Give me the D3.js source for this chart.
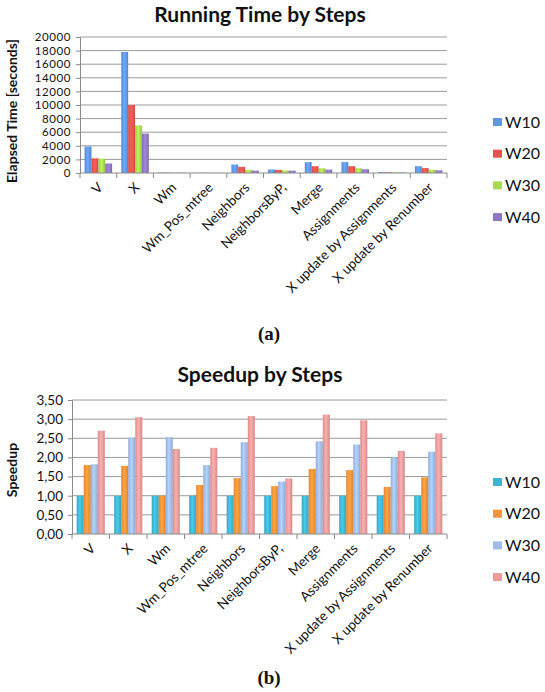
<!DOCTYPE html>
<html>
<head>
<meta charset="utf-8">
<style>
  body { margin: 0; background: #fff; }
  svg text { fill: #111; }
</style>
</head>
<body>
<div id="chart"></div>
<script src="https://d3js.org/d3.v7.min.js"></script>
<script>
// categories shared by both charts
var steps = ["V", "X", "Wm", "Wm_Pos_mtree", "Neighbors", "NeighborsByP,", "Merge",
             "Assignments", "X update by Assignments", "X update by Renumber"];
var workers = ["W10", "W20", "W30", "W40"];

// (a) elapsed time in seconds
var timeW10 = [3900, 17800, 60, 30, 1250, 520, 1600, 1600, 150, 1000];
var timeW20 = [2150, 10000, 50, 25, 900, 450, 1000, 1000, 110, 720];
var timeW30 = [2100, 7000, 40, 20, 450, 380, 700, 700, 90, 480];
var timeW40 = [1400, 5800, 35, 18, 350, 350, 500, 550, 70, 400];
var timeTicks = d3.range(0, 20001, 2000);

// (b) speedup
var speedW10 = [1.00, 1.00, 1.00, 1.00, 1.00, 1.00, 1.00, 1.00, 1.00, 1.00];
var speedW20 = [1.80, 1.78, 1.00, 1.28, 1.46, 1.25, 1.70, 1.67, 1.23, 1.48];
var speedW30 = [1.82, 2.52, 2.53, 1.80, 2.40, 1.37, 2.42, 2.34, 2.00, 2.15];
var speedW40 = [2.70, 3.05, 2.22, 2.25, 3.08, 1.45, 3.12, 2.97, 2.17, 2.63];
var speedTicks = d3.range(0, 3.51, 0.5);

var sans = "Lato, 'Open Sans', sans-serif";

var svg = d3.select("#chart").append("svg")
  .attr("width", 545).attr("height", 692);
var defs = svg.append("defs");

// horizontal gradients so bars look like the old excel bars
function makeGrad(id, c) {
  var g = defs.append("linearGradient").attr("id", id)
    .attr("x1", "0%").attr("x2", "100%").attr("y1", "0%").attr("y2", "0%");
  var base = d3.color(c);
  g.append("stop").attr("offset", "0%").attr("stop-color", base.darker(0.25));
  g.append("stop").attr("offset", "45%").attr("stop-color", base.brighter(0.35));
  g.append("stop").attr("offset", "100%").attr("stop-color", base.darker(0.3));
}

function drawChart(cfg) {
  var g = svg.append("g").style("font-family", sans);
  var x0 = d3.scaleBand().domain(steps).range([cfg.left, cfg.right])
    .paddingInner(0.25).paddingOuter(0.125);
  var x1 = d3.scaleBand().domain(workers).range([0, x0.bandwidth()]);
  var y = d3.scaleLinear().domain([0, cfg.max]).range([cfg.bottom, cfg.top]);
  var step = (cfg.right - cfg.left) / steps.length;

  cfg.colors.forEach(function(c, i) { makeGrad(cfg.id + i, c); });

  // title
  g.append("text").attr("x", 260).attr("y", cfg.titleY)
    .attr("text-anchor", "middle").attr("font-size", "21px").attr("font-weight", "bold")
    .text(cfg.title);

  // gridlines
  g.append("g").selectAll("line").data(cfg.ticks.slice(1)).enter().append("line")
    .attr("x1", cfg.left).attr("x2", cfg.right)
    .attr("y1", function(d) { return y(d); }).attr("y2", function(d) { return y(d); })
    .attr("stroke", "#9a9a9a").attr("stroke-width", 1);

  // y axis
  var ya = g.append("g").attr("transform", "translate(" + cfg.left + ",0)")
    .call(d3.axisLeft(y).tickValues(cfg.ticks).tickSize(4).tickPadding(5).tickFormat(cfg.fmt));
  ya.select(".domain").attr("stroke", "#8a8a8a");
  ya.selectAll(".tick line").attr("stroke", "#8a8a8a");
  ya.selectAll("text").attr("font-size", cfg.tickSize).attr("fill", "#222")
    .attr("letter-spacing", cfg.tickSpacing)
    .style("font-family", sans);

  g.append("text")
    .attr("transform", "translate(" + cfg.yTitleX + "," + cfg.yTitleY + ") rotate(-90)")
    .attr("text-anchor", "middle").attr("font-size", "14px").attr("font-weight", "bold")
    .text(cfg.yTitle);

  // bars
  var series = workers.map(function(w, i) { return { key: w, idx: i, values: cfg.values[i] }; });
  g.append("g").selectAll("g").data(series).enter().append("g")
    .attr("fill", function(d) { return "url(#" + cfg.id + d.idx + ")"; })
    .selectAll("rect")
    .data(function(s) { return s.values.map(function(v, j) { return { step: steps[j], w: s.key, v: v }; }); })
    .enter().append("rect")
      .attr("x", function(d) { return x0(d.step) + x1(d.w); })
      .attr("width", x1.bandwidth())
      .attr("y", function(d) { return y(d.v); })
      .attr("height", function(d) { return cfg.bottom - y(d.v); });

  // x axis with ticks between groups
  g.append("line").attr("x1", cfg.left).attr("x2", cfg.right)
    .attr("y1", cfg.bottom).attr("y2", cfg.bottom).attr("stroke", "#8a8a8a");
  g.append("g").selectAll("line").data(d3.range(steps.length + 1)).enter().append("line")
    .attr("x1", function(i) { return cfg.left + i * step; })
    .attr("x2", function(i) { return cfg.left + i * step; })
    .attr("y1", cfg.bottom).attr("y2", cfg.bottom + 5).attr("stroke", "#8a8a8a");

  g.append("g").selectAll("text").data(steps).enter().append("text")
    .attr("transform", function(d) {
      return "translate(" + (x0(d) + x0.bandwidth() / 2 + 2) + "," + (cfg.bottom + 12) + ") rotate(-45)";
    })
    .attr("text-anchor", "end").attr("dy", "0.35em").attr("font-size", "13.5px").attr("fill", "#222")
    .text(function(d) { return d; });

  // legend
  var lg = g.append("g").selectAll("g").data(workers).enter().append("g")
    .attr("transform", function(d, i) { return "translate(493," + (cfg.legendY + i * 31.7) + ")"; });
  lg.append("rect").attr("x", 0).attr("y", -4).attr("width", 9).attr("height", 8)
    .attr("fill", function(d, i) { return cfg.colors[i]; });
  lg.append("text").attr("x", 12).attr("dy", "0.36em").attr("font-size", "16px")
    .text(function(d) { return d; });

  // caption
  svg.append("text").attr("x", 269).attr("y", cfg.capY)
    .attr("text-anchor", "middle").style("font-family", "'Liberation Serif', 'DejaVu Serif', serif")
    .attr("font-weight", "bold").attr("font-size", "19px")
    .text(cfg.caption);
}

drawChart({
  id: "ga", title: "Running Time by Steps", titleY: 22,
  left: 80, right: 447, top: 37, bottom: 173, max: 20000,
  ticks: timeTicks, fmt: d3.format("d"), tickSize: "11.5px", tickSpacing: "0.6px",
  yTitle: "Elapsed Time [seconds]", yTitleX: 17, yTitleY: 111,
  values: [timeW10, timeW20, timeW30, timeW40],
  colors: ["#5f95e3", "#e4534e", "#a9d94f", "#8f78c0"],
  legendY: 122, capY: 340, caption: "(a)"
});

drawChart({
  id: "gb", title: "Speedup by Steps", titleY: 382,
  left: 72, right: 447, top: 400, bottom: 534, max: 3.5,
  ticks: speedTicks, fmt: function(d) { return d3.format(".2f")(d).replace(".", ","); },
  tickSize: "13.5px", tickSpacing: "0px",
  yTitle: "Speedup", yTitleX: 17, yTitleY: 470,
  values: [speedW10, speedW20, speedW30, speedW40],
  colors: ["#3db5d2", "#f5923a", "#9fbbec", "#eb9a9a"],
  legendY: 482, capY: 684, caption: "(b)"
});
</script>
</body>
</html>
